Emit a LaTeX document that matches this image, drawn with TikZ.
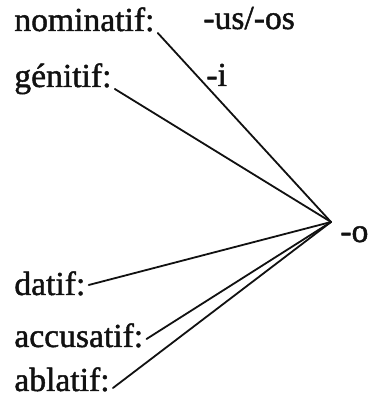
\documentclass[tikz,border=0pt]{standalone}
\usepackage{fontspec}
\setmainfont{Liberation Serif}[BoldFont=Liberation Serif, BoldFeatures={FakeBold=1.3}]
\definecolor{pagebg}{HTML}{FFFFFF}
\definecolor{textfg}{HTML}{111111}
\definecolor{edge}{HTML}{111111}
\tikzset{
  casename/.style={anchor=base west, inner sep=0pt, text=textfg},
  ending/.style={anchor=base west, inner sep=0pt, text=textfg},
  link/.style={draw=edge, line width=0.9pt}
}
\begin{document}
\begin{tikzpicture}[
  x=0.5pt,
  y=0.5pt,
  font=\fontsize{16.8}{20}\selectfont\bfseries,
  line cap=round,
  line join=round
]
  \fill[pagebg] (0,0) rectangle (370,402);
  \useasboundingbox (0,0) rectangle (370,402);

  % case names on the left
  \node[casename] (nom) at (14,371) {nominatif:};
  \node[casename] (gen) at (14,315) {génitif:};
  \node[casename] (dat) at (14,107) {datif:};
  \node[casename] (acc) at (14,55) {accusatif:};
  \node[casename] (abl) at (14,11) {ablatif:};

  % endings
  \node[ending] (usos) at (203,373) {-us/-os};
  \node[ending] (i) at (206,316) {-i};
  \coordinate (v) at (331,180);
  \node[ending] (o) at (340,160) {-o};

  \foreach \n/\dy in {nom/-2, gen/-2, dat/10, acc/8, abl/3}
    \draw[link] ([shift={(3,\dy)}]\n.base east) -- (v);
\end{tikzpicture}
\end{document}
